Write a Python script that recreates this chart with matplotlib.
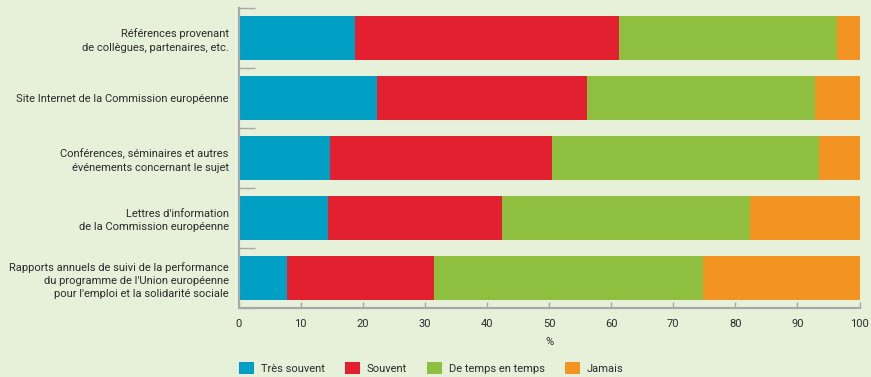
import numpy as np
import matplotlib
matplotlib.use("Agg")
import matplotlib.pyplot as plt

categories = [
    "Références provenant\nde collègues, partenaires, etc.",
    "Site Internet de la Commission européenne",
    "Conférences, séminaires et autres\névénements concernant le sujet",
    "Lettres d'information\nde la Commission européenne",
    "Rapports annuels de suivi de la performance\ndu programme de l'Union européenne\npour l'emploi et la solidarité sociale",
]
series_names = ["Très souvent", "Souvent", "De temps en temps", "Jamais"]
tres_souvent = [18.8, 22.3, 14.7, 14.4, 7.8]
souvent = [42.5, 33.8, 35.8, 28.0, 23.7]
de_temps = [35.1, 36.7, 43.0, 39.9, 43.3]
jamais = [3.6, 7.2, 6.5, 17.7, 25.2]
colors = ["#00A0C4", "#E3202F", "#8FBF3F", "#F39322"]
xticks = list(range(0, 101, 10))

bg = "#E7F0D9"
txt = "#2B2B2B"
grey = "#A8A8A8"

plt.rcParams["font.family"] = ["Roboto", "DejaVu Sans"]
fig = plt.figure(figsize=(8.71, 3.77), dpi=100, facecolor=bg)
ax = fig.add_axes([238.5 / 871, 1 - 308 / 377, 621 / 871, 300 / 377])
ax.set_facecolor(bg)

y = np.arange(len(categories))
left = np.zeros(len(categories))
for name, vals, c in zip(series_names, [tres_souvent, souvent, de_temps, jamais], colors):
    ax.barh(y, vals, left=left, height=0.733, color=c, label=name, linewidth=0)
    left += np.array(vals)

ax.set_ylim(len(categories) - 0.5, -0.5)
ax.set_xlim(0, 100)
ax.set_yticks(y)
ax.set_yticklabels(categories, fontsize=8, color=txt, linespacing=1.4)
ax.set_yticks(np.arange(-0.5, len(categories)), minor=True)
ax.tick_params(axis="y", which="major", length=0, pad=7)
ax.tick_params(axis="y", which="minor", length=11.5, width=1, color=grey, direction="in")
ax.set_xticks(xticks)
ax.tick_params(axis="x", which="major", length=4.5, width=1, color=grey, direction="in",
               labelsize=8, labelcolor=txt, pad=8)
ax.set_xlabel("%", fontsize=8, color=txt, labelpad=6)

for s in ["top", "right"]:
    ax.spines[s].set_visible(False)
for s in ["left", "bottom"]:
    ax.spines[s].set_color(grey)
    ax.spines[s].set_linewidth(1.5)

fig.legend(loc="center left", bbox_to_anchor=(239 / 871, 1 - 368 / 377), ncol=4,
           frameon=False, fontsize=8, handlelength=1.35, handleheight=1.35,
           handletextpad=0.63, columnspacing=1.8, borderpad=0, borderaxespad=0,
           labelcolor=txt)

fig.savefig("out.png", dpi=100, facecolor=bg)
